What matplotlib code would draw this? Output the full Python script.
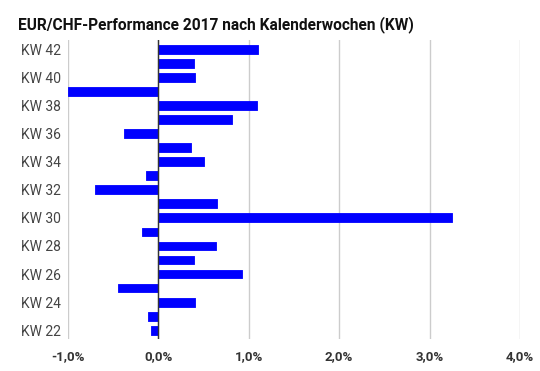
import matplotlib.pyplot as plt
from matplotlib.ticker import FuncFormatter

plt.rcParams['font.family'] = ['Roboto', 'DejaVu Sans']

# Kalenderwochen und Performance in Prozent
wochen = list(range(22, 43))
performance = [-0.08, -0.11, 0.41, -0.45, 0.92, 0.39, 0.64, -0.18, 3.25, 0.65,
               -0.70, -0.14, 0.51, 0.36, -0.38, 0.81, 1.09, -1.00, 0.40, 0.39, 1.10]
x_ticks = [-1, 0, 1, 2, 3, 4]

fig = plt.figure(figsize=(5.4, 3.71), dpi=100)
ax = fig.add_axes([0.1259, 0.0863, 0.837, 0.806])

pos = list(range(len(wochen)))
ax.barh(pos, performance, height=0.62, color='#0000ff', edgecolor='#0000ff',
        linewidth=0.6, joinstyle='round', zorder=3)

ax.set_xlim(-1, 4)
ax.set_ylim(-0.62, len(wochen) - 1 + 0.66)
ax.set_xticks(x_ticks)
ax.xaxis.set_major_formatter(FuncFormatter(lambda v, p: f'{v:.1f}%'.replace('.', ',')))
for lbl in ax.get_xticklabels():
    lbl.set_fontweight('bold')

ax.set_yticks(pos[::2])
ax.set_yticklabels([f'KW {w}' for w in wochen[::2]])

ax.tick_params(axis='x', length=0, pad=8, labelsize=9.5, labelcolor='#333333')
ax.tick_params(axis='y', length=0, pad=5, labelsize=10, labelcolor='#444444')

ax.grid(axis='x', color='#cccccc', linewidth=1, zorder=0)
ax.axvline(0, color='#333333', linewidth=1, zorder=4)
for s in ax.spines.values():
    s.set_visible(False)

fig.text(0.033, 0.935, 'EUR/CHF-Performance 2017 nach Kalenderwochen (KW)',
         fontsize=11.2, fontweight='bold', color='#111111', va='center')

fig.savefig('out.png', dpi=100)
